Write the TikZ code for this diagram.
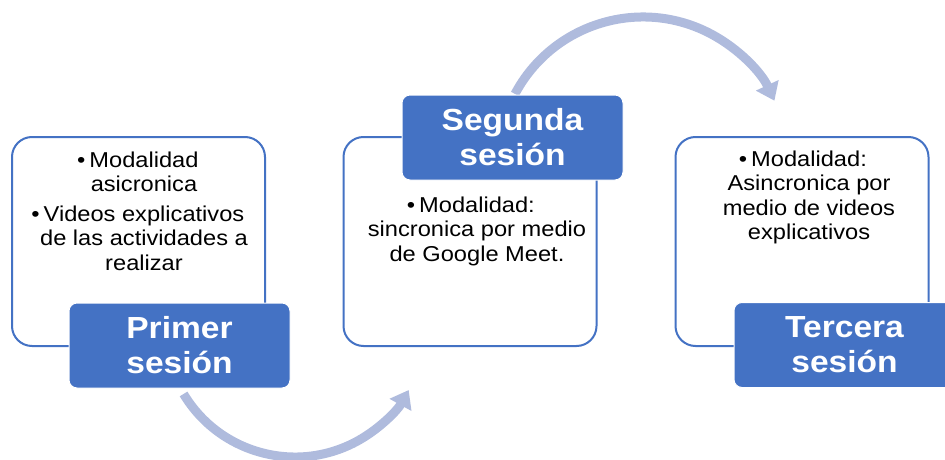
\documentclass[tikz,border=0pt]{standalone}
\usepackage{fontspec}
\setmainfont[FakeStretch=1.1]{Liberation Sans}
\usetikzlibrary{arrows.meta}
\definecolor{accentblue}{RGB}{68,114,196}
\definecolor{arrowblue}{RGB}{175,187,221}
\newcommand{\bul}{\llap{\textbullet\hspace{4pt}}}
\begin{document}
\begin{tikzpicture}[x=1pt,y=1pt,
  panel/.style={draw=accentblue, line width=2pt, rounded corners=20pt, fill=white, inner sep=0pt, minimum width=253pt, minimum height=209pt},
  tag/.style={fill=accentblue, draw=white, line width=1pt, rounded corners=8pt, inner sep=0pt, minimum width=221pt, minimum height=85pt, text=white, font=\bfseries\fontsize{30.5}{35}\selectfont, align=center},
  body/.style={inner sep=0pt, align=center, anchor=north, font=\fontsize{21.5}{24.5}\selectfont},
  flow/.style={draw=arrowblue, line width=9pt, -{Triangle[width=24pt,length=17pt,fill=arrowblue]}}]
\useasboundingbox (0,0) rectangle (945,459);
% curved arrows
\coordinate (o1) at (295,132);
\coordinate (o2) at (643,297);
\draw[flow] ([shift={(211:130)}]o1) arc[start angle=211, end angle=331, radius=130];
\draw[flow] ([shift={(152:145)}]o2) arc[start angle=152, end angle=25, radius=145];
% panels
\node[panel] (p1) at (138.5,217.5) {};
\node[panel] (p2) at (470,217.5) {};
\node[panel] (p3) at (802,217.5) {};
% texts
\node[body] (t1) at (144,307.5) {\bul Modalidad\\asicronica\\[5pt]\bul Videos explicativos\\de las actividades a\\realizar};
\node[body] (t2) at (477,262.5) {\bul Modalidad:\\sincronica por medio\\de Google Meet.};
\node[body] (t3) at (809,308.5) {\bul Modalidad:\\Asincronica por\\medio de videos\\explicativos};
% tags
\node[tag] (l1) at (179.5,113.5) {Primer\\sesión};
\node[tag] (l2) at (512.5,321.5) {Segunda\\sesión};
\node[tag] (l3) at (844.5,114) {Tercera\\sesión};
\end{tikzpicture}
\end{document}
